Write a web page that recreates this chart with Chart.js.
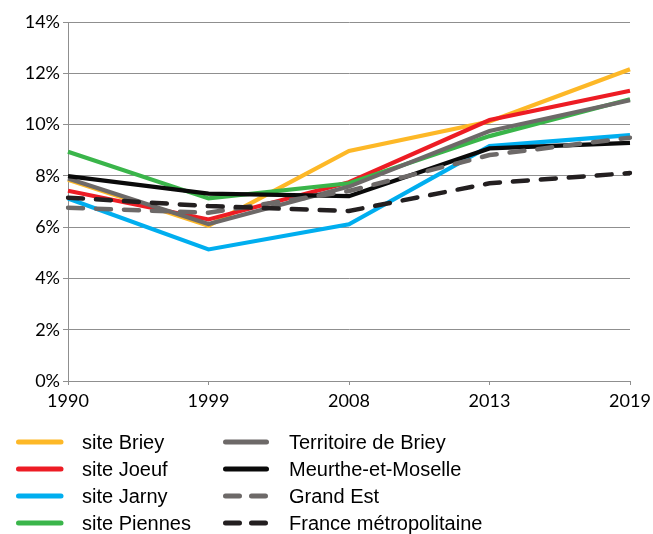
<!DOCTYPE html>
<html>
<head>
<meta charset="utf-8">
<script src="https://cdn.jsdelivr.net/npm/chart.js@4"></script>
<style>
html,body{margin:0;padding:0;background:#fff;}
#wrap{width:653px;height:534px;position:relative;}
</style>
</head>
<body>
<div id="wrap"><canvas id="c" width="653" height="534"></canvas></div>
<script>
const categories = ['1990','1999','2008','2013','2019'];
const yTicks = [0,2,4,6,8,10,12,14];

const siteBriey      = [7.85, 6.06, 8.97, 10.12, 12.16];
const siteJoeuf      = [7.42, 6.30, 7.75, 10.18, 11.32];
const siteJarny      = [7.12, 5.13, 6.11, 9.16, 9.59];
const sitePiennes    = [8.94, 7.12, 7.71, 9.55, 10.99];
const territoireBriey= [7.90, 6.12, 7.58, 9.75, 10.95];
const meurthe        = [7.99, 7.31, 7.21, 9.07, 9.29];
const grandEst       = [6.76, 6.56, 7.41, 8.81, 9.49];
const france         = [7.15, 6.82, 6.63, 7.71, 8.11];

const seriesNames = ['site Briey','site Joeuf','site Jarny','site Piennes','Territoire de Briey','Meurthe-et-Moselle','Grand Est','France métropolitaine'];
const seriesData = [siteBriey, siteJoeuf, siteJarny, sitePiennes, territoireBriey, meurthe, grandEst, france];
const seriesColors = ['#FDB827','#ED1C24','#00AEEF','#3AB54A','#6D6968','#0a0a0a','#6D6968','#231F20'];
const seriesDashed = [false,false,false,false,false,false,true,true];

const datasets = seriesNames.map((n,i)=>({
  label:n,
  data:seriesData[i],
  borderColor:seriesColors[i],
  backgroundColor:seriesColors[i],
  borderWidth: seriesDashed[i] ? 4.5 : 4.2,
  borderDash: seriesDashed[i] ? [15,13] : [],
  borderCapStyle: seriesDashed[i] ? 'round' : 'butt',
  borderJoinStyle:'miter',
  pointRadius:0,
  tension:0,
  fill:false,
  order: 8 - i
}));

const legendPlugin = {
  id:'customLegend',
  afterDraw(chart){
    const ctx = chart.ctx;
    const rowsY = [442,469,496,523];
    const cols = [{x0:18.5,x1:61,tx:82},{x0:225.5,x1:266.5,tx:289}];
    ctx.save();
    chart.data.datasets.forEach((ds,i)=>{
      const col = cols[Math.floor(i/4)];
      const y = rowsY[i%4];
      ctx.beginPath();
      ctx.strokeStyle = ds.borderColor;
      ctx.lineWidth = 5;
      ctx.lineCap = 'round';
      ctx.setLineDash(ds.borderDash && ds.borderDash.length ? [14,12] : []);
      ctx.moveTo(col.x0,y);
      ctx.lineTo(col.x1,y);
      ctx.stroke();
      ctx.setLineDash([]);
      ctx.fillStyle = '#000';
      ctx.font = '20px "Liberation Sans", Arial, sans-serif';
      ctx.textBaseline = 'middle';
      ctx.textAlign = 'left';
      ctx.fillText(ds.label, col.tx, y+1);
    });
    ctx.restore();
  }
};

new Chart(document.getElementById('c'),{
  type:'line',
  data:{labels:categories, datasets},
  options:{
    responsive:false,
    animation:false,
    layout:{padding:{left:0,top:22,right:23,bottom:123}},
    plugins:{legend:{display:false},tooltip:{enabled:false}},
    scales:{
      x:{
        type:'category',
        offset:false,
        grid:{drawOnChartArea:false,drawTicks:true,tickLength:4,color:'#8f8f8f'},
        border:{color:'#8f8f8f',width:1},
        ticks:{color:'#000',font:{family:'Lato',size:18},padding:5,maxRotation:0,autoSkip:false},
        afterFit(s){s.height=30;s.paddingRight=0;s.paddingLeft=0;}
      },
      y:{
        min:0,max:14,
        afterBuildTicks(s){s.ticks = yTicks.map(v=>({value:v}));},
        grid:{color:'#8f8f8f',tickLength:5,drawTicks:true},
        border:{color:'#8f8f8f',width:1},
        ticks:{color:'#000',font:{family:'Lato',size:18},padding:3,callback:v=>v+'%'},
        afterFit(s){s.width=68;s.paddingTop=0;s.paddingBottom=0;}
      }
    }
  },
  plugins:[legendPlugin]
});
</script>
</body>
</html>
